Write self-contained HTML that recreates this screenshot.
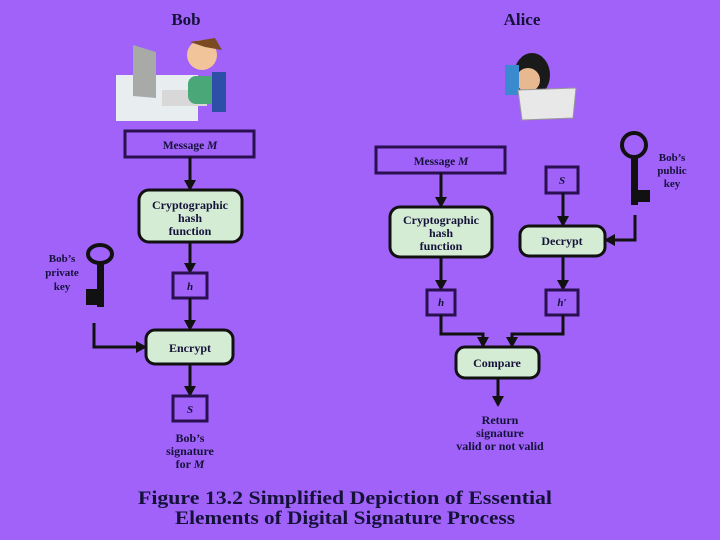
<!DOCTYPE html>
<html><head><style>
html,body{margin:0;padding:0;background:#a062f8;}
svg{display:block;}
text{font-family:"Liberation Serif",serif;font-weight:bold;fill:#15123a;}
</style></head><body>
<svg width="720" height="540" viewBox="0 0 720 540" xmlns="http://www.w3.org/2000/svg">
<defs>
<marker id="a" markerWidth="12" markerHeight="12" refX="9" refY="6" orient="auto" markerUnits="userSpaceOnUse">
<path d="M0,0 L11,6 L0,12 z" fill="#111"/></marker>
</defs>
<rect width="720" height="540" fill="#a062f8"/>
<text x="186" y="25" font-size="17" text-anchor="middle">Bob</text>
<text x="522" y="25" font-size="17" text-anchor="middle">Alice</text>
<!-- Bob picture -->
<rect x="116" y="75" width="82" height="46" fill="#e8eef0"/>
<polygon points="133,45 156,52 156,98 133,96" fill="#a8aaa8"/>
<rect x="162" y="90" width="45" height="16" fill="#d8d8d8"/>
<circle cx="202" cy="55" r="15" fill="#f2c49a"/>
<path d="M190,42 L215,38 L222,50 L205,47 Z" fill="#7a4a22"/>
<rect x="188" y="76" width="32" height="28" rx="8" fill="#4aa878"/>
<rect x="212" y="72" width="14" height="40" fill="#2d4fa8"/>
<!-- Alice picture -->
<ellipse cx="532" cy="75" rx="18" ry="22" fill="#1a1a1a"/>
<ellipse cx="528" cy="80" rx="12" ry="12" fill="#e8b890"/>
<rect x="505" y="65" width="14" height="30" fill="#3a8ad0"/>
<polygon points="518,90 576,88 573,118 522,120" fill="#e8e8e8" stroke="#999"/>
<!-- LEFT -->
<g stroke="#111" stroke-width="3" fill="none">
<rect x="125" y="131" width="129" height="26" fill="none" stroke="#2a1050"/>
<line x1="190" y1="157" x2="190" y2="189" marker-end="url(#a)"/>
<rect x="139" y="190" width="103" height="52" rx="10" fill="#d4ebd4"/>
<line x1="190" y1="242" x2="190" y2="272" marker-end="url(#a)"/>
<rect x="173" y="273" width="34" height="25" stroke="#2a1050"/>
<line x1="190" y1="298" x2="190" y2="329" marker-end="url(#a)"/>
<rect x="146" y="330" width="87" height="34" rx="9" fill="#d4ebd4"/>
<polyline points="94,323 94,347 145,347" marker-end="url(#a)"/>
<line x1="190" y1="364" x2="190" y2="395" marker-end="url(#a)"/>
<rect x="173" y="396" width="34" height="25" stroke="#2a1050"/>
</g>
<text x="190" y="149" font-size="11.5" text-anchor="middle">Message <tspan font-style="italic">M</tspan></text>
<text x="190" y="209" font-size="12" text-anchor="middle">Cryptographic</text>
<text x="190" y="222" font-size="12" text-anchor="middle">hash</text>
<text x="190" y="235" font-size="12" text-anchor="middle">function</text>
<text x="190" y="290" font-size="11" text-anchor="middle" font-style="italic">h</text>
<text x="190" y="352" font-size="12" text-anchor="middle">Encrypt</text>
<text x="190" y="413" font-size="11" text-anchor="middle" font-style="italic">S</text>
<text x="190" y="442" font-size="12" text-anchor="middle">Bob’s</text>
<text x="190" y="455" font-size="12" text-anchor="middle">signature</text>
<text x="190" y="468" font-size="12" text-anchor="middle">for <tspan font-style="italic">M</tspan></text>
<text x="62" y="262" font-size="11" text-anchor="middle">Bob’s</text>
<text x="62" y="276" font-size="11" text-anchor="middle">private</text>
<text x="62" y="290" font-size="11" text-anchor="middle">key</text>
<!-- left key -->
<ellipse cx="100" cy="254" rx="12" ry="9" fill="none" stroke="#111" stroke-width="4"/>
<rect x="97" y="262" width="7" height="45" fill="#111"/>
<rect x="86" y="289" width="11" height="16" fill="#111"/>
<!-- RIGHT -->
<g stroke="#111" stroke-width="3" fill="none">
<rect x="376" y="147" width="129" height="26" stroke="#2a1050"/>
<line x1="441" y1="173" x2="441" y2="206" marker-end="url(#a)"/>
<rect x="390" y="207" width="102" height="50" rx="10" fill="#d4ebd4"/>
<line x1="441" y1="257" x2="441" y2="289" marker-end="url(#a)"/>
<rect x="427" y="290" width="28" height="25" stroke="#2a1050"/>
<rect x="546" y="167" width="32" height="26" stroke="#2a1050"/>
<line x1="563" y1="193" x2="563" y2="225" marker-end="url(#a)"/>
<rect x="520" y="226" width="85" height="30" rx="9" fill="#d4ebd4"/>
<polyline points="635,215 635,240 606,240" marker-end="url(#a)"/>
<line x1="563" y1="256" x2="563" y2="289" marker-end="url(#a)"/>
<rect x="546" y="290" width="32" height="25" stroke="#2a1050"/>
<polyline points="441,315 441,334 483,334 483,346" marker-end="url(#a)"/>
<polyline points="563,315 563,334 512,334 512,346" marker-end="url(#a)"/>
<rect x="456" y="347" width="83" height="31" rx="9" fill="#d4ebd4"/>
<line x1="498" y1="378" x2="498" y2="405" marker-end="url(#a)"/>
</g>
<text x="441" y="165" font-size="11.5" text-anchor="middle">Message <tspan font-style="italic">M</tspan></text>
<text x="441" y="224" font-size="12" text-anchor="middle">Cryptographic</text>
<text x="441" y="237" font-size="12" text-anchor="middle">hash</text>
<text x="441" y="250" font-size="12" text-anchor="middle">function</text>
<text x="441" y="306" font-size="11" text-anchor="middle" font-style="italic">h</text>
<text x="562" y="184" font-size="11" text-anchor="middle" font-style="italic">S</text>
<text x="562" y="245" font-size="12" text-anchor="middle">Decrypt</text>
<text x="562" y="306" font-size="11" text-anchor="middle" font-style="italic">h′</text>
<text x="497" y="367" font-size="12" text-anchor="middle">Compare</text>
<text x="500" y="424" font-size="12" text-anchor="middle">Return</text>
<text x="500" y="437" font-size="12" text-anchor="middle">signature</text>
<text x="500" y="450" font-size="12" text-anchor="middle">valid or not valid</text>
<text x="672" y="161" font-size="11" text-anchor="middle">Bob’s</text>
<text x="672" y="174" font-size="11" text-anchor="middle">public</text>
<text x="672" y="187" font-size="11" text-anchor="middle">key</text>
<!-- right key -->
<circle cx="634" cy="145" r="12" fill="none" stroke="#111" stroke-width="4"/>
<rect x="631" y="155" width="7" height="50" fill="#111"/>
<rect x="638" y="190" width="12" height="12" fill="#111"/>
<text x="345" y="504" font-size="19" text-anchor="middle" textLength="414" lengthAdjust="spacingAndGlyphs">Figure 13.2   Simplified Depiction of Essential</text>
<text x="345" y="524" font-size="19" text-anchor="middle" textLength="340" lengthAdjust="spacingAndGlyphs">Elements of Digital Signature Process</text>
</svg>
</body></html>
